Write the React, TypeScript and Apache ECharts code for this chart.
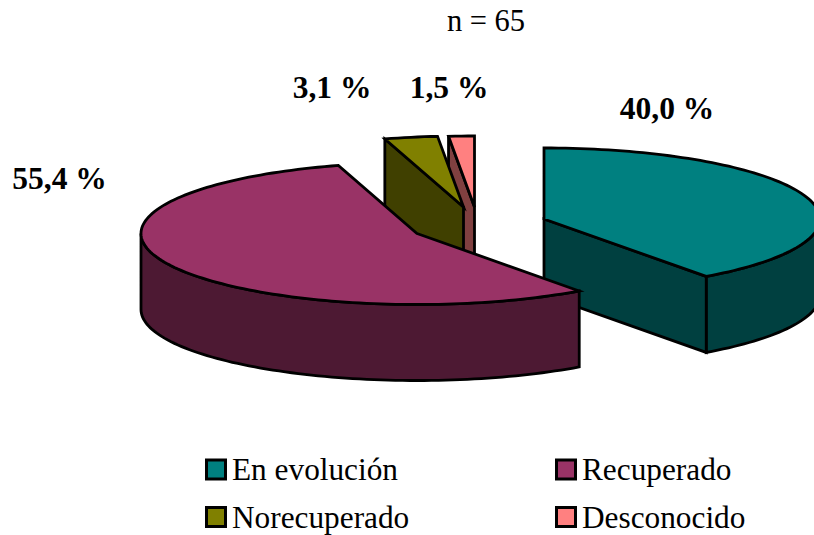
import React, { useEffect, useRef } from "react";
import * as echarts from "echarts";

// Status of the 65 followed cases, as shares of the total.
const categories = ["En evolución", "Recuperado", "Norecuperado", "Desconocido"];
const shares = [40.0, 55.4, 3.1, 1.5];
const sampleLabel = "n = 65";

const topColors = ["#008080", "#993366", "#808000", "#FF8080"];
const sideColors = ["#004040", "#4D1933", "#404000", "#804040"];

// Exploded apex of every wedge and where its value label sits.
const apexes = [[544, 219], [417, 233.5], [463.5, 207], [474.5, 207]];
const labelSpots = [[667, 108], [59.5, 178], [332, 87], [449, 87]];
const legendSpots = [[205, 452.5], [555, 452.5], [205, 500], [555, 500]];

// Back wedges first, the large front wedge last so it covers them.
const paintOrder = [3, 2, 0, 1];

const RX = 276;
const RY = 71;
const DEPTH = 76;
const SERIF = "'Liberation Serif', 'Times New Roman', serif";
const rad = (deg: number) => (deg * Math.PI) / 180;

function rimPoint(i: number, deg: number, drop = 0): number[] {
  const [cx, cy] = apexes[i];
  return [cx + RX * Math.sin(rad(deg)), cy - RY * Math.cos(rad(deg)) + drop];
}

function arc(i: number, from: number, to: number, drop = 0): number[][] {
  const steps = Math.max(2, Math.ceil(Math.abs(to - from) / 1.5));
  const pts: number[][] = [];
  for (let s = 0; s <= steps; s++) pts.push(rimPoint(i, from + ((to - from) * s) / steps, drop));
  return pts;
}

function wedge(i: number, value: number, start: number) {
  const end = start + (value / 100) * 360;
  const [cx, cy] = apexes[i];
  const stroke = { stroke: "#000", lineWidth: 2.8, lineJoin: "miter" };
  const side = { ...stroke, fill: sideColors[i] };
  const children: any[] = [];

  // Curved outer wall: only the part facing the viewer.
  const wallFrom = Math.max(start, 90);
  const wallTo = Math.min(end, 270);
  if (wallTo > wallFrom) {
    children.push({
      type: "polygon",
      shape: { points: [...arc(i, wallFrom, wallTo), ...arc(i, wallTo, wallFrom, DEPTH)] },
      style: side,
    });
  }
  // Flat cut faces that turn towards the viewer.
  const cutFace = (deg: number) => {
    const rim = rimPoint(i, deg);
    children.push({
      type: "polygon",
      shape: { points: [[cx, cy], rim, [rim[0], rim[1] + DEPTH], [cx, cy + DEPTH]] },
      style: side,
    });
  };
  if (start > 180 && start < 360) cutFace(start);
  if (end > 0 && end < 180) cutFace(end);

  children.push({
    type: "polygon",
    shape: { points: [[cx, cy], ...arc(i, start, end)] },
    style: { ...stroke, fill: topColors[i] },
  });
  return children;
}

const startAngles = shares.map((_, i) =>
  shares.slice(0, i).reduce((sum, v) => sum + (v / 100) * 360, 0)
);

export default function App() {
  const ref = useRef<HTMLDivElement>(null);

  useEffect(() => {
    document.body.style.margin = "0";
    const chart = echarts.init(ref.current!, null, { renderer: "svg" });
    chart.setOption({
      animation: false,
      backgroundColor: "#fff",
      title: {
        text: sampleLabel,
        left: 481,
        top: 0,
        textAlign: "center",
        textStyle: { fontFamily: SERIF, fontSize: 30.5, fontWeight: "normal", color: "#000" },
      },
      legend: categories.map((name, i) => ({
        data: [{ name, icon: "rect", itemStyle: { color: topColors[i], borderColor: "#000", borderWidth: 3 } }],
        left: legendSpots[i][0],
        top: legendSpots[i][1],
        padding: 0,
        itemWidth: 19,
        itemHeight: 19,
        itemGap: 0,
        selectedMode: false,
        textStyle: { fontFamily: SERIF, fontSize: 31.3, lineHeight: 32, color: "#000", padding: [2, 0, 0, 1.5] },
      })),
      series: paintOrder.map((i) => ({
        type: "custom",
        name: categories[i],
        coordinateSystem: "none",
        silent: true,
        itemStyle: { color: topColors[i] },
        data: [[shares[i]]],
        renderItem: (_params: any, api: any) => {
          const value = api.value(0) as number;
          return {
            type: "group",
            children: [
              ...wedge(i, value, startAngles[i]),
              {
                type: "text",
                style: {
                  x: labelSpots[i][0],
                  y: labelSpots[i][1],
                  text: `${value.toFixed(1).replace(".", ",")} %`,
                  fontFamily: SERIF,
                  fontSize: 31.5,
                  fontWeight: "bold",
                  fill: "#000",
                  align: "center",
                  verticalAlign: "middle",
                },
              },
            ],
          };
        },
      })),
    });
    return () => chart.dispose();
  }, []);

  return <div ref={ref} style={{ width: 814, height: 535 }} />;
}
